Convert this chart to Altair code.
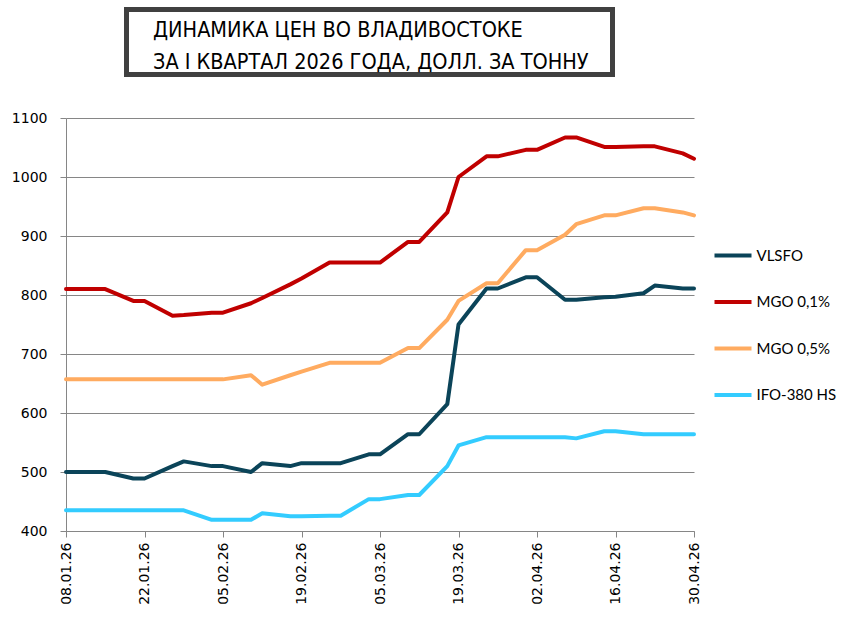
import altair as alt
import pandas as pd

# ---- data ----
dates = [
    "2026-01-08", "2026-01-15", "2026-01-20", "2026-01-22", "2026-01-27", "2026-01-29",
    "2026-02-03", "2026-02-05", "2026-02-10", "2026-02-12", "2026-02-17", "2026-02-19",
    "2026-02-24", "2026-02-26", "2026-03-03", "2026-03-05", "2026-03-10", "2026-03-12",
    "2026-03-17", "2026-03-19", "2026-03-24", "2026-03-26", "2026-03-31", "2026-04-02",
    "2026-04-07", "2026-04-09", "2026-04-14", "2026-04-16", "2026-04-21", "2026-04-23",
    "2026-04-28", "2026-04-30",
]
vlsfo = [500, 500, 489, 489, 510, 518, 510, 510, 500, 515, 510, 515,
         515, 515, 530, 530, 564, 564, 615, 750, 811, 811, 830, 830,
         792, 792, 796, 797, 803, 816, 811, 811]
mgo01 = [810, 810, 790, 790, 765, 766, 770, 770, 786, 795, 818, 828,
         855, 855, 855, 855, 890, 890, 940, 1000, 1035, 1035, 1046, 1046,
         1067, 1067, 1051, 1051, 1052, 1052, 1040, 1031]
mgo05 = [657, 657, 657, 657, 657, 657, 657, 657, 664, 648, 664, 670,
         685, 685, 685, 685, 710, 710, 758, 790, 820, 820, 876, 876,
         902, 920, 935, 935, 947, 947, 940, 935]
ifo380 = [435, 435, 435, 435, 435, 435, 419, 419, 419, 430, 425, 425,
          426, 426, 454, 454, 461, 461, 510, 545, 559, 559, 559, 559,
          559, 557, 569, 569, 564, 564, 564, 564]

series_names = ["VLSFO", "MGO 0,1%", "MGO 0,5%", "IFO-380 HS"]
series_colors = ["#0B4459", "#C00000", "#FFAB60", "#33CCFF"]
tick_dates = ["2026-01-08", "2026-01-22", "2026-02-05", "2026-02-19", "2026-03-05",
              "2026-03-19", "2026-04-02", "2026-04-16", "2026-04-30"]
y_ticks = [400, 500, 600, 700, 800, 900, 1000, 1100]
title_lines = ["ДИНАМИКА ЦЕН ВО ВЛАДИВОСТОКЕ", "ЗА I КВАРТАЛ 2026 ГОДА, ДОЛЛ. ЗА ТОННУ"]

rows = []
for k, (name, vals) in enumerate(zip(series_names, [vlsfo, mgo01, mgo05, ifo380])):
    for d, v in zip(dates, vals):
        rows.append({"date": d, "price": v, "series": name, "k": k})
df = pd.DataFrame(rows)


def dt(s):
    y, m, d = (int(p) for p in s.split("-"))
    return alt.DateTime(year=y, month=m, date=d, utc=True)


lines = alt.Chart(df).mark_line(strokeWidth=4, strokeJoin="round", strokeCap="round").encode(
    x=alt.X(
        "date:T",
        scale=alt.Scale(type="utc", domain=[dt(tick_dates[0]), dt(tick_dates[-1])], nice=False),
        axis=alt.Axis(
            values=[dt(s) for s in tick_dates],
            labelExpr="utcFormat(datum.value, '%d.%m.%y')",
            labelAngle=270,
            labelAlign="right",
            labelBaseline="middle",
            labelPadding=5,
            grid=False,
            title=None,
        ),
    ),
    y=alt.Y(
        "price:Q",
        scale=alt.Scale(domain=[400, 1100], nice=False, zero=False),
        axis=alt.Axis(values=y_ticks, format="d", grid=True, labelPadding=13, title=None),
    ),
    color=alt.Color(
        "series:N",
        scale=alt.Scale(domain=series_names, range=series_colors),
        legend=alt.Legend(
            title=None,
            orient="none",
            legendX=646.5,
            legendY=117,
            symbolType="stroke",
            symbolSize=1369,
            symbolStrokeWidth=4,
            labelFont="Lato",
            labelFontSize=15,
            labelColor="black",
            labelOffset=3,
            rowPadding=17.5,
            padding=0,
        ),
    ),
    order=alt.Order("k:Q"),
)

box = alt.Chart(alt.Data(values=[{}])).mark_rect(
    fill="white", stroke="#404040", strokeWidth=5
).encode(
    x=alt.value(60.5), x2=alt.value(546.5), y=alt.value(-108.5), y2=alt.value(-43.5)
)

title = alt.Chart(alt.Data(values=[{}])).mark_text(
    align="left", baseline="alphabetic",
    font="'Liberation Sans Narrow', 'DejaVu Sans Condensed', 'Liberation Sans'",
    fontSize=21.5, lineHeight=32, color="black"
).encode(
    x=alt.value(87), y=alt.value(-81.5), text=alt.value(title_lines)
)

chart = alt.layer(lines, box, title).properties(
    width=628,
    height=413,
    autosize=alt.AutoSizeParams(type="none"),
    padding={"left": 66, "top": 118, "right": 156, "bottom": 97},
    background="white",
).configure_view(stroke=None).configure_axis(
    domainColor="#868686",
    tickColor="#868686",
    gridColor="#868686",
    gridWidth=1,
    domainWidth=1,
    tickSize=6,
    labelFont="DejaVu Sans",
    labelFontSize=14,
    labelColor="black",
)

chart.save("out.html", embed_options={"renderer": "svg", "actions": False})
